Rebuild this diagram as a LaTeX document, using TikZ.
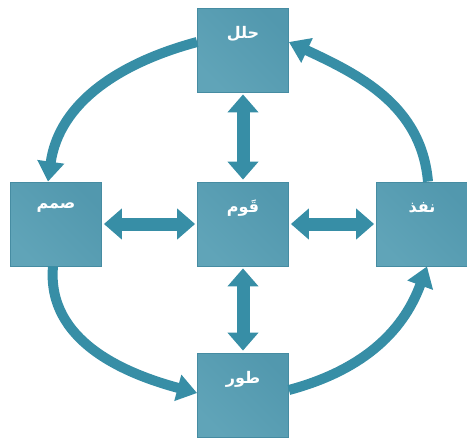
\documentclass[tikz,border=0pt]{standalone}
\usepackage{fontspec}
\newfontfamily\arabicfont[Script=Arabic]{DejaVu Sans}
\TeXXeTstate=1
\usetikzlibrary{arrows.meta}
\definecolor{boxdark}{RGB}{82,152,174}
\definecolor{boxmid}{RGB}{128,186,202}
\definecolor{boxend}{RGB}{96,164,184}
\definecolor{boxline}{RGB}{70,140,162}
\definecolor{arrowc}{RGB}{55,142,166}
\tikzset{
  stepbox/.style={draw=boxline, line width=0.8pt, minimum width=91pt, minimum height=84pt,
    inner sep=0pt, left color=boxdark, middle color=boxmid, right color=boxend, shading angle=-45},
  lbl/.style={text=white, font=\arabicfont\bfseries\fontsize{16}{18}\selectfont},
  ringarrow/.style={draw=arrowc, line width=10pt, -{Triangle[width=26pt,length=20pt]}},
  duo/.style={draw=arrowc, line width=13pt,
    {Triangle[width=30pt,length=18pt]}-{Triangle[width=30pt,length=18pt]}, shorten <=2pt, shorten >=2pt}
}
\begin{document}
\begin{tikzpicture}[x=1pt,y=1pt]
\useasboundingbox (0,0) rectangle (467,-440);
\node[stepbox] (top) at (243,-50) {};
\node[stepbox] (mid) at (243,-224) {};
\node[stepbox] (lft) at (56,-224) {};
\node[stepbox] (rgt) at (422,-224) {};
\node[stepbox] (bot) at (243,-395) {};
\node[lbl] (ttop) at (243,-34) {\beginR حلل\endR};
\node[lbl] (tmid) at (243,-208) {\beginR قَوم\endR};
\node[lbl] (tlft) at (56,-208) {\beginR صمم\endR};
\node[lbl] (trgt) at (422,-208) {\beginR نفذ\endR};
\node[lbl] (tbot) at (243,-379) {\beginR طور\endR};
% center double arrows
\draw[duo] (top.south) -- (mid.north);
\draw[duo] (mid.south) -- (bot.north);
\draw[duo] (lft.east) -- (mid.west);
\draw[duo] (mid.east) -- (rgt.west);
% ring arrows
\draw[ringarrow] ([yshift=8pt]top.west) to[out=195,in=82] ([xshift=-8pt]lft.north);
\draw[ringarrow] ([xshift=-3pt]lft.south) to[out=-95,in=165] ([yshift=2pt]bot.west);
\draw[ringarrow] ([yshift=5pt]bot.east) to[out=15,in=250] ([xshift=5pt]rgt.south);
\draw[ringarrow] ([xshift=6pt]rgt.north) to[out=95,in=-25] ([yshift=8pt]top.east);
\end{tikzpicture}
\end{document}
